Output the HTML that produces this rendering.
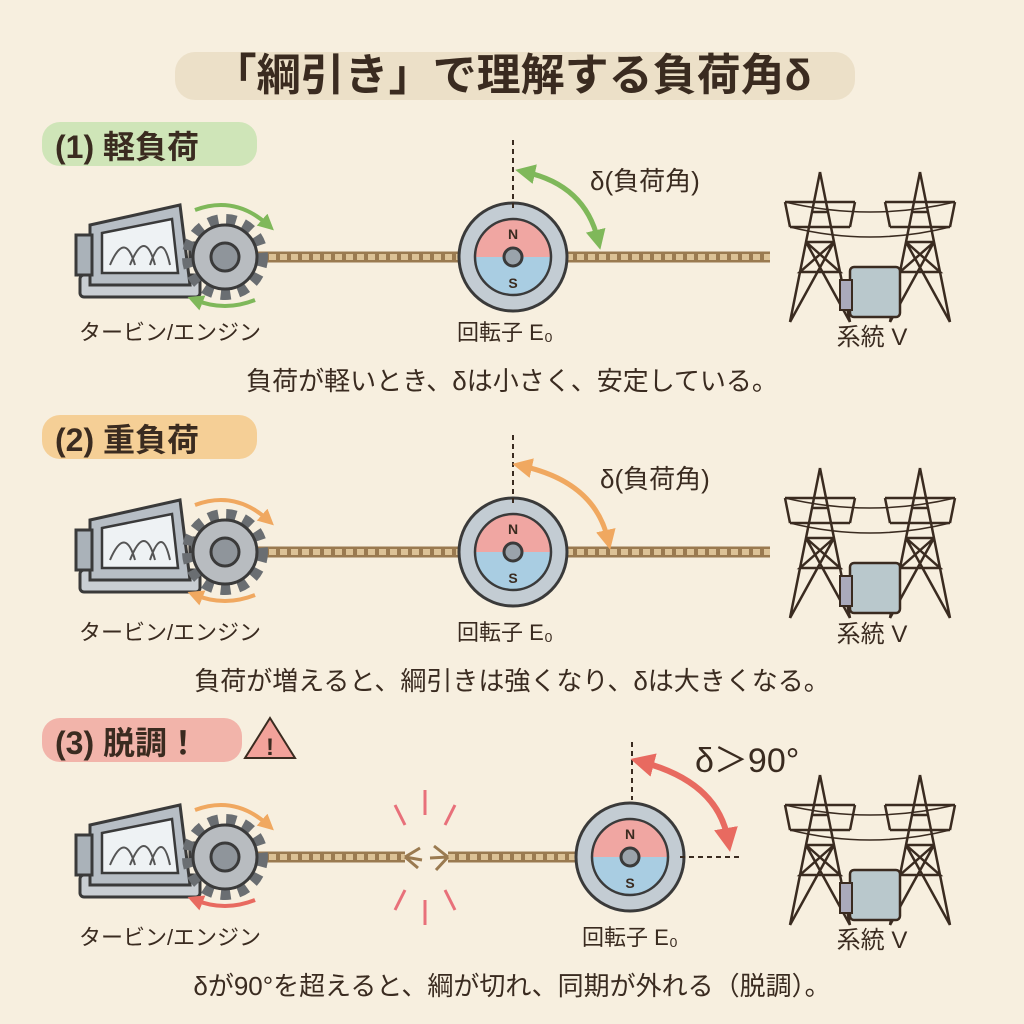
<!DOCTYPE html>
<html><head><meta charset="utf-8"><style>
html,body{margin:0;padding:0;background:#f7efdf;}
svg{display:block}
text{font-family:"Liberation Sans","Noto Sans CJK JP",sans-serif;fill:#3a2b20}
</style></head><body>
<svg width="1024" height="1024" viewBox="0 0 1024 1024" xmlns="http://www.w3.org/2000/svg">
<defs>
<marker id="ag" viewBox="0 0 10 10" refX="5" refY="5" markerWidth="4" markerHeight="4" orient="auto-start-reverse"><path d="M0 0 L10 5 L0 10 Z" fill="#7fb85a"/></marker>
<marker id="ao" viewBox="0 0 10 10" refX="5" refY="5" markerWidth="4" markerHeight="4" orient="auto-start-reverse"><path d="M0 0 L10 5 L0 10 Z" fill="#f0a860"/></marker>
<marker id="ar" viewBox="0 0 10 10" refX="5" refY="5" markerWidth="4" markerHeight="4" orient="auto-start-reverse"><path d="M0 0 L10 5 L0 10 Z" fill="#e86a60"/></marker>
<g id="turbine">
 <rect x="-10" y="60" width="120" height="22" rx="4" fill="#c9ced3" stroke="#3a3a3a" stroke-width="3"/>
 <path d="M0 10 L90 -10 L100 70 L0 70 Z" fill="#b7bec5" stroke="#3a3a3a" stroke-width="3"/>
 <path d="M12 18 L82 4 L88 58 L12 58 Z" fill="#eef2f4" stroke="#3a3a3a" stroke-width="2.5"/>
 <path d="M20 50 Q35 15 45 50 M40 50 Q55 12 65 50 M60 50 Q72 14 80 50" fill="none" stroke="#555" stroke-width="2"/>
 <rect x="-14" y="20" width="16" height="40" fill="#aab2b9" stroke="#3a3a3a" stroke-width="3"/>
 <rect x="100" y="28" width="30" height="18" fill="#aab2b9" stroke="#3a3a3a" stroke-width="3"/>
</g>
<g id="gear">
 <circle r="38" fill="none" stroke="#6a6e72" stroke-width="10" stroke-dasharray="10 8"/>
 <circle r="32" fill="#b8bcc0" stroke="#3a3a3a" stroke-width="3"/>
 <circle r="14" fill="#8f959b" stroke="#3a3a3a" stroke-width="3"/>
</g>
<g id="rotor">
 <circle r="54" fill="#c3ccd3" stroke="#3a3a3a" stroke-width="3"/>
 <path d="M-38 0 A38 38 0 0 1 38 0 Z" fill="#f0a6a2"/>
 <path d="M-38 0 A38 38 0 0 0 38 0 Z" fill="#a9cde2"/>
 <circle r="38" fill="none" stroke="#3a3a3a" stroke-width="2.5"/>
 <circle r="9" fill="#9aa3ab" stroke="#3a3a3a" stroke-width="3"/>
 <text x="0" y="-18" font-size="14" font-weight="bold" text-anchor="middle">N</text>
 <text x="0" y="31" font-size="14" font-weight="bold" text-anchor="middle">S</text>
</g>
<g id="tower" fill="none" stroke="#3a2b20" stroke-width="2.5">
 <path d="M0 0 L-30 150 M0 0 L30 150 M-20 100 L20 100 M-14 70 L14 70 M-8 40 L8 40 M-30 150 L14 70 L-20 100 L20 100 L-14 70 M30 150 L-14 70"/>
 <path d="M-35 30 L35 30 M-30 55 L30 55 M-35 30 L-30 55 M35 30 L30 55"/>
</g>
<g id="grid">
 <use href="#tower" x="40" y="0"/>
 <use href="#tower" x="140" y="0"/>
 <path d="M5 30 Q90 50 175 30 M10 55 Q90 75 170 55" fill="none" stroke="#3a2b20" stroke-width="1.5"/>
 <rect x="70" y="95" width="50" height="50" rx="4" fill="#b9c8cc" stroke="#3a2b20" stroke-width="2.5"/>
 <rect x="60" y="108" width="12" height="30" fill="#aab" stroke="#3a2b20" stroke-width="2"/>
</g>
</defs>

<rect x="175" y="52" width="680" height="48" rx="20" fill="#ece0c8"/>
<text x="512" y="90" font-size="44" font-weight="bold" text-anchor="middle">「綱引き」で理解する負荷角δ</text>

<!-- Section 1 -->
<rect x="42" y="122" width="215" height="44" rx="18" fill="#cfe5b8"/>
<text x="55" y="158" font-size="32" font-weight="bold">(1) 軽負荷</text>
<use href="#turbine" x="90" y="215"/>
<line x1="225" y1="257" x2="770" y2="257" stroke="#9a7a50" stroke-width="11"/>
<line x1="225" y1="257" x2="770" y2="257" stroke="#dcc296" stroke-width="6" stroke-dasharray="7 4"/>
<use href="#gear" x="225" y="257"/>
<path d="M195 210 Q235 195 268 225" fill="none" stroke="#7fb85a" stroke-width="4" marker-end="url(#ag)"/>
<path d="M255 300 Q225 312 195 300" fill="none" stroke="#7fb85a" stroke-width="4" marker-end="url(#ag)"/>
<use href="#rotor" x="513" y="257"/>
<use href="#grid" x="780" y="172"/>
<line x1="513" y1="140" x2="513" y2="210" stroke="#3a2b20" stroke-width="2" stroke-dasharray="5 4"/>
<path d="M525 172 Q585 185 598 240" fill="none" stroke="#7fb85a" stroke-width="5" marker-start="url(#ag)" marker-end="url(#ag)"/>
<text x="590" y="190" font-size="26">δ(負荷角)</text>
<text x="170" y="340" font-size="22" text-anchor="middle">タービン/エンジン</text>
<text x="505" y="340" font-size="22" text-anchor="middle">回転子 E₀</text>
<text x="872" y="345" font-size="24" text-anchor="middle">系統 V</text>
<text x="512" y="390" font-size="26" text-anchor="middle">負荷が軽いとき、δは小さく、安定している。</text>

<!-- Section 2 -->
<rect x="42" y="415" width="215" height="44" rx="18" fill="#f5cf96"/>
<text x="55" y="451" font-size="32" font-weight="bold">(2) 重負荷</text>
<use href="#turbine" x="90" y="510"/>
<line x1="225" y1="552" x2="770" y2="552" stroke="#9a7a50" stroke-width="11"/>
<line x1="225" y1="552" x2="770" y2="552" stroke="#dcc296" stroke-width="6" stroke-dasharray="7 4"/>
<use href="#gear" x="225" y="552"/>
<path d="M195 505 Q235 490 268 520" fill="none" stroke="#f0a860" stroke-width="4" marker-end="url(#ao)"/>
<path d="M255 595 Q225 607 195 595" fill="none" stroke="#f0a860" stroke-width="4" marker-end="url(#ao)"/>
<use href="#rotor" x="513" y="552"/>
<use href="#grid" x="780" y="468"/>
<line x1="513" y1="435" x2="513" y2="505" stroke="#3a2b20" stroke-width="2" stroke-dasharray="5 4"/>
<path d="M522 466 Q595 482 608 540" fill="none" stroke="#f0a860" stroke-width="5" marker-start="url(#ao)" marker-end="url(#ao)"/>
<text x="600" y="488" font-size="26">δ(負荷角)</text>
<text x="170" y="640" font-size="22" text-anchor="middle">タービン/エンジン</text>
<text x="505" y="640" font-size="22" text-anchor="middle">回転子 E₀</text>
<text x="872" y="642" font-size="24" text-anchor="middle">系統 V</text>
<text x="512" y="690" font-size="26" text-anchor="middle">負荷が増えると、綱引きは強くなり、δは大きくなる。</text>

<!-- Section 3 -->
<rect x="42" y="718" width="200" height="44" rx="18" fill="#f2b4aa"/>
<text x="55" y="754" font-size="32" font-weight="bold">(3) 脱調！</text>
<path d="M270 718 L295 758 L245 758 Z" fill="#f2a29a" stroke="#3a2b20" stroke-width="2"/>
<text x="270" y="755" font-size="24" font-weight="bold" text-anchor="middle">!</text>
<use href="#turbine" x="90" y="815"/>
<line x1="225" y1="857" x2="405" y2="857" stroke="#9a7a50" stroke-width="11"/>
<line x1="225" y1="857" x2="405" y2="857" stroke="#dcc296" stroke-width="6" stroke-dasharray="7 4"/>
<path d="M405 857 L420 848 M405 857 L422 860 M405 857 L418 868" stroke="#9a7a50" stroke-width="3"/>
<line x1="448" y1="857" x2="630" y2="857" stroke="#9a7a50" stroke-width="11"/>
<line x1="448" y1="857" x2="630" y2="857" stroke="#dcc296" stroke-width="6" stroke-dasharray="7 4"/>
<path d="M448 857 L434 846 M448 857 L430 858 M448 857 L436 870" stroke="#9a7a50" stroke-width="3"/>
<use href="#gear" x="225" y="857"/>
<path d="M195 810 Q235 795 268 825" fill="none" stroke="#f0a860" stroke-width="4" marker-end="url(#ao)"/>
<path d="M255 900 Q225 912 195 900" fill="none" stroke="#e86a60" stroke-width="4" marker-end="url(#ar)"/>
<use href="#rotor" x="630" y="857"/>
<use href="#grid" x="780" y="775"/>
<g stroke="#e8707a" stroke-width="3">
 <line x1="425" y1="790" x2="425" y2="815"/><line x1="395" y1="805" x2="405" y2="825"/><line x1="455" y1="805" x2="445" y2="825"/>
 <line x1="425" y1="900" x2="425" y2="925"/><line x1="395" y1="910" x2="405" y2="890"/><line x1="455" y1="910" x2="445" y2="890"/>
</g>
<line x1="632" y1="742" x2="632" y2="800" stroke="#3a2b20" stroke-width="2" stroke-dasharray="5 4"/>
<line x1="680" y1="857" x2="740" y2="857" stroke="#3a2b20" stroke-width="2" stroke-dasharray="5 4"/>
<path d="M642 762 Q718 782 728 840" fill="none" stroke="#e86a60" stroke-width="6" marker-start="url(#ar)" marker-end="url(#ar)"/>
<text x="695" y="772" font-size="34">δ＞90°</text>
<text x="170" y="945" font-size="22" text-anchor="middle">タービン/エンジン</text>
<text x="630" y="945" font-size="22" text-anchor="middle">回転子 E₀</text>
<text x="872" y="948" font-size="24" text-anchor="middle">系統 V</text>
<text x="512" y="995" font-size="26" text-anchor="middle">δが90°を超えると、綱が切れ、同期が外れる（脱調）。</text>
</svg>
</body></html>
